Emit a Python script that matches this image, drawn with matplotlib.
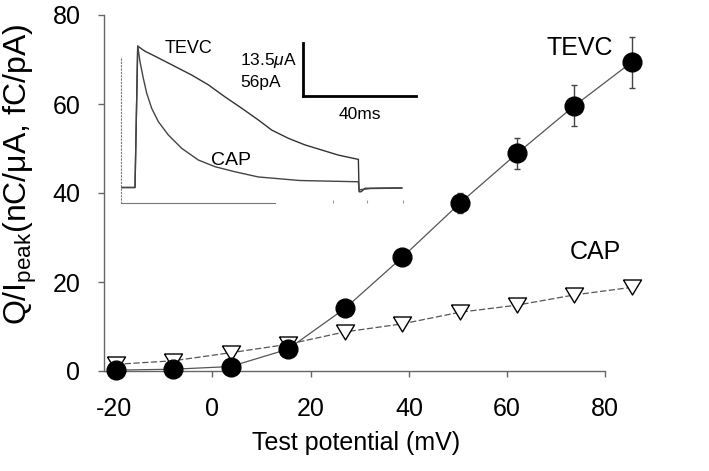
import numpy as np
import matplotlib
matplotlib.use("Agg")
import matplotlib.pyplot as plt

plt.rcParams['font.family'] = ['Liberation Sans', 'DejaVu Sans']
plt.rcParams['mathtext.fontset'] = 'custom'
plt.rcParams['mathtext.rm'] = 'Liberation Sans'
plt.rcParams['mathtext.it'] = 'Liberation Sans:italic'

# ---------------- main data ----------------
test_potential = [-20, -10, 0, 10, 20, 30, 40, 50, 60, 70]            # mV
tevc_q = [0.2, 0.4, 1.0, 4.9, 14.1, 25.6, 37.7, 48.9, 59.6, 69.4]
tevc_err = [0, 0, 0, 0, 0, 0, 2.3, 3.4, 4.6, 5.7]
cap_q = [1.5, 2.3, 4.1, 6.0, 8.8, 10.6, 13.2, 14.8, 17.1, 18.8]

xtick_labels = [-20, 0, 20, 40, 60, 80]
ytick_labels = [0, 20, 40, 60, 80]

# ---------------- inset traces ----------------
tevc_t = [0.0, 4.97, 5.93, 8.52, 13.24, 19.16, 25.09, 30.98, 36.91, 42.83, 48.72,
          53.48, 59.37, 65.30, 71.22, 77.11, 84.21, 84.46, 85.17, 86.59, 99.61]
tevc_i = [0.0, 0.0, 36.2, 34.9, 33.2, 31.0, 28.8, 26.3, 23.2, 20.3, 17.3,
          14.7, 12.6, 10.9, 9.6, 8.3, 7.2, -1.1, -1.1, -0.2, -0.1]      # uA
cap_t = [0.0, 4.97, 5.93, 6.74, 7.91, 9.12, 10.89, 13.24, 16.79, 21.54, 27.43,
         33.36, 40.45, 48.72, 63.52, 84.21, 84.46, 85.52, 88.36, 99.61]
cap_i = [0.0, 0.0, 150.6, 133.7, 116.1, 100.2, 84.1, 70.0, 55.8, 41.6, 29.2,
         22.1, 16.7, 11.2, 7.4, 6.1, -2.7, -2.1, -1.1, -0.6]            # pA

fig = plt.figure(figsize=(7.09, 4.71), dpi=100)
W, H = 709, 471

# main axes
ax = fig.add_axes([104 / W, (H - 388.8) / H, 562.1 / W, 382.7 / H])
ax.set_xlim(-22.09, 76)
ax.set_ylim(-4, 82)
for s in ['top', 'right']:
    ax.spines[s].set_visible(False)
ax.spines['bottom'].set_position(('data', 0))
xt_pos = [-3.16 + 0.857 * v for v in xtick_labels]
ax.spines['bottom'].set_bounds(-22.09, xt_pos[-1])
ax.spines['left'].set_bounds(0, 80)
for s in ['bottom', 'left']:
    ax.spines[s].set_color('#666666')
    ax.spines[s].set_linewidth(1.0)
ax.set_xticks(xt_pos)
ax.set_xticklabels([str(v) for v in xtick_labels])
ax.set_yticks(ytick_labels)
ax.set_yticklabels([str(v) for v in ytick_labels])
ax.tick_params(axis='x', direction='out', length=4, width=1, color='#666666',
               labelsize=18, pad=15)
ax.tick_params(axis='y', direction='out', length=4, width=1, color='#666666',
               labelsize=18, pad=13)

tri = [(-1, 0.83), (1, 0.83), (0, -0.83), (-1, 0.83)]
ax.plot(test_potential, cap_q, linestyle=(0, (5, 2)), color='#555555', lw=0.9,
        marker=tri, ms=13, mfc='white', mec='black', mew=1.0, zorder=3,
        clip_on=False)
ax.errorbar(test_potential, tevc_q, yerr=tevc_err, fmt='o', ms=13.5,
            color='black', ecolor='#444444', elinewidth=1, capsize=2.5,
            capthick=1, zorder=4, clip_on=False)
ax.plot(test_potential, tevc_q, '-', color='#555555', lw=0.9, zorder=2,
        clip_on=False)

ax.text(61.0, 72.6, 'TEVC', fontsize=18, ha='center', va='center')
ax.text(63.6, 26.7, 'CAP', fontsize=18, ha='center', va='center')

fig.text(356 / W, 1 - 443 / H, 'Test potential (mV)', fontsize=18,
         ha='center', va='center')
fig.text(20 / W, 1 - 174 / H, 'Q/I$_\\mathregular{peak}$(nC/μA, fC/pA)',
         fontsize=23, rotation=90, ha='center', va='center')

# inset axes
ins = fig.add_axes([121 / W, (H - 203) / H, (415 - 121) / W, (203 - 40) / H])
ins.set_xlim(0, 104.3)
ins.set_ylim(-3.97, 37.78)
ins.patch.set_alpha(0)
for s in ['top', 'right']:
    ins.spines[s].set_visible(False)
ins.spines['left'].set_bounds(-3.97, 33.4)
ins.spines['left'].set_linestyle((0, (1, 2)))
ins.spines['left'].set_color('#777777')
ins.spines['bottom'].set_bounds(0, 54.6)
ins.spines['bottom'].set_color('#777777')
ins.set_xticks([75.2, 87.3, 100.1])
ins.set_xticklabels([])
ins.set_yticks([])
ins.tick_params(axis='x', direction='in', length=2, width=0.8, color='#999999')

cap_scale = 13.5 / 56.0
ins.plot(tevc_t, tevc_i, color='#333333', lw=1.0)
ins.plot(cap_t, [v * cap_scale for v in cap_i], color='#444444', lw=1.0)

# scale bars
ins.plot([64.6, 64.6], [23.4, 36.9], color='black', lw=2, clip_on=False)
ins.plot([64.6, 104.6], [23.4, 23.4], color='black', lw=2, clip_on=False)
ins.text(42.2, 32.6, '13.5$\\mu$A', fontsize=12.5, ha='left', va='center')
ins.text(42.2, 27.0, '56pA', fontsize=12.5, ha='left', va='center')
ins.text(84.7, 18.8, '40ms', fontsize=12.5, ha='center', va='center')
ins.text(24.0, 35.6, 'TEVC', fontsize=13, ha='center', va='center')
ins.text(39.0, 7.0, 'CAP', fontsize=14, ha='center', va='center')

fig.savefig('out.png', dpi=100)
